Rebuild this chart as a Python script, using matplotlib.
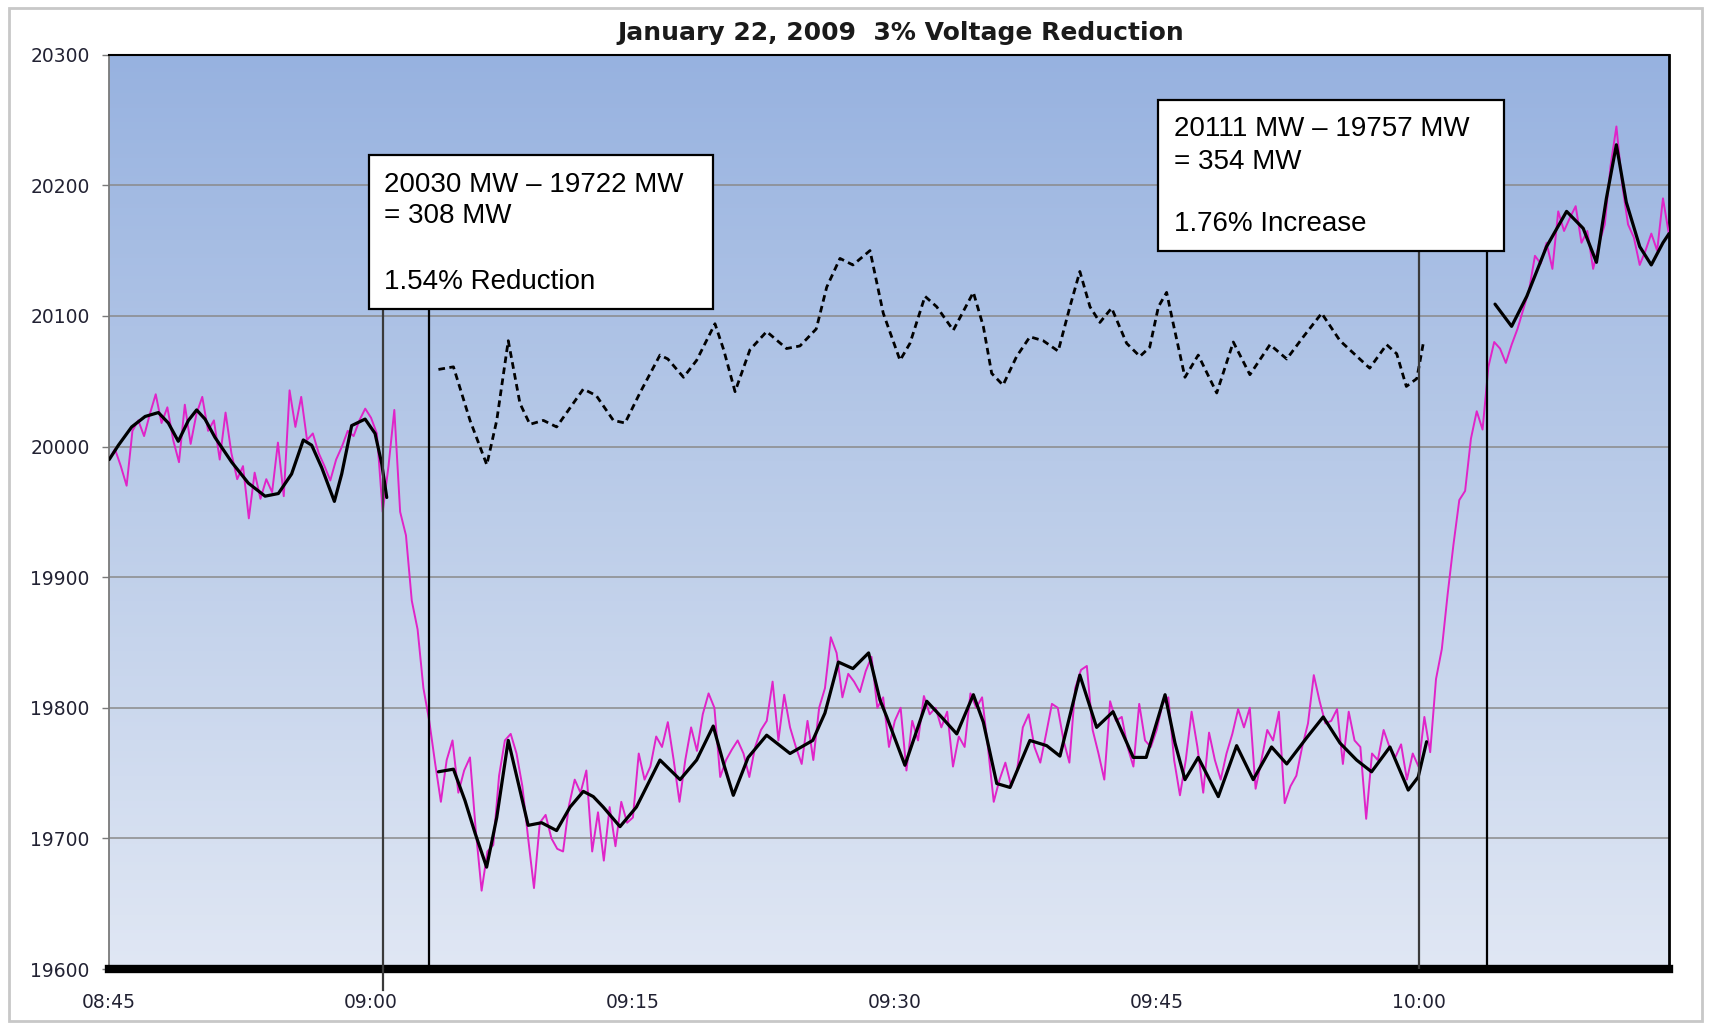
import numpy as np
import matplotlib
matplotlib.use('Agg')
import matplotlib.pyplot as plt
from matplotlib.patches import Rectangle
from matplotlib.colors import LinearSegmentedColormap

# System load (MW), one reading every 20 s starting 08:45
load_step_min = 1 / 3
load_mw = [
    19990, 19998, 19985, 19970, 20012, 20020, 20008, 20025, 20040, 20018, 20030, 20005, 19988, 20032, 20002,
    20025, 20038, 20012, 20020, 19990, 20026, 19995, 19975, 19985, 19945, 19980, 19960, 19975, 19965, 20003,
    19962, 20043, 20015, 20038, 20005, 20010, 19995, 19985, 19974, 19990, 20000, 20012, 20008, 20020, 20029,
    20022, 20010, 19950, 19985, 20028, 19950, 19932, 19882, 19860, 19815, 19790, 19758, 19728, 19760, 19775,
    19735, 19752, 19762, 19706, 19660, 19690, 19695, 19748, 19775, 19780, 19765, 19740, 19700, 19662, 19712,
    19718, 19700, 19692, 19690, 19725, 19745, 19735, 19752, 19690, 19720, 19683, 19724, 19694, 19728, 19712,
    19716, 19765, 19745, 19755, 19778, 19770, 19789, 19760, 19728, 19760, 19785, 19767, 19795, 19811, 19800,
    19747, 19760, 19768, 19775, 19765, 19747, 19770, 19783, 19790, 19820, 19775, 19810, 19785, 19770, 19757,
    19790, 19760, 19800, 19815, 19854, 19842, 19808, 19826, 19820, 19812, 19828, 19839, 19800, 19808, 19770,
    19790, 19800, 19752, 19790, 19775, 19809, 19795, 19800, 19785, 19797, 19755, 19778, 19770, 19811, 19800,
    19808, 19770, 19728, 19745, 19758, 19740, 19752, 19785, 19795, 19770, 19758, 19780, 19803, 19800, 19775,
    19758, 19815, 19829, 19832, 19783, 19765, 19745, 19805, 19790, 19793, 19770, 19755, 19803, 19775, 19770,
    19783, 19803, 19808, 19760, 19733, 19760, 19797, 19770, 19735, 19781, 19760, 19745, 19765, 19780, 19799,
    19785, 19800, 19738, 19760, 19783, 19775, 19797, 19727, 19740, 19748, 19770, 19788, 19825, 19805, 19788,
    19790, 19799, 19757, 19797, 19775, 19770, 19715, 19765, 19760, 19783, 19770, 19762, 19772, 19745, 19765,
    19755, 19793, 19766, 19822, 19845, 19887, 19925, 19959, 19966, 20006, 20027, 20013, 20061, 20080, 20075,
    20064, 20078, 20090, 20105, 20120, 20146, 20140, 20156, 20136, 20180, 20165, 20175, 20184, 20156, 20165,
    20136, 20155, 20170, 20215, 20245, 20200, 20170, 20160, 20139, 20150, 20163, 20150, 20190, 20163,
]
load_t = np.arange(len(load_mw)) * load_step_min

# Smoothed load, minutes after 08:45
smooth1_t = [0, 0.53, 1.29, 2.06, 2.82, 3.39, 3.96, 4.54, 5.01, 5.49, 6.06, 7.02, 7.97, 8.93,
             9.69, 10.45, 11.12, 11.6, 12.17, 12.9, 13.32, 13.89, 14.66, 15.23, 15.61, 15.9]
smooth1_mw = [19990, 20001, 20015, 20023, 20026, 20018, 20004, 20020, 20028, 20021, 20007, 19988, 19972, 19962,
              19964, 19979, 20005, 20001, 19984, 19958, 19979, 20016, 20021, 20010, 19987, 19961]

smooth2_t = [18.86, 19.72, 20.38, 20.96, 21.62, 22.2, 22.86, 23.44, 24.0, 24.77, 25.63, 26.4, 27.16, 27.73,
             28.3, 29.26, 30.2, 31.55, 32.7, 33.65, 34.6, 35.2, 35.75, 36.6, 37.66, 39.0, 40.3, 41.0,
             41.77, 42.6, 43.5, 44.15, 44.54, 45.58, 46.83, 47.6, 48.55, 49.5, 50.07, 50.84, 51.6, 52.74,
             53.7, 54.46, 55.6, 56.56, 57.5, 58.66, 59.4, 60.48, 61.05, 61.62, 62.38, 63.53, 64.58, 65.53,
             66.58, 67.45, 68.59, 69.54, 70.5, 71.45, 72.31, 73.36, 74.41, 74.98, 75.46]
smooth2_mw = [19751, 19753, 19729, 19704, 19678, 19716, 19775, 19742, 19710, 19712, 19706, 19724, 19736, 19732,
              19724, 19709, 19724, 19760, 19745, 19760, 19786, 19757, 19733, 19762, 19779, 19765, 19775, 19796,
              19835, 19830, 19842, 19806, 19793, 19756, 19805, 19794, 19780, 19810, 19789, 19742, 19739, 19775,
              19771, 19763, 19825, 19785, 19797, 19762, 19762, 19810, 19773, 19745, 19762, 19732, 19771, 19745,
              19770, 19757, 19777, 19793, 19773, 19760, 19751, 19770, 19737, 19747, 19774]

smooth3_t = [79.38, 80.33, 81.2, 82.33, 83.48, 84.43, 85.19, 85.76, 86.33, 86.9, 87.67, 88.33, 89.0, 89.35]
smooth3_mw = [20109, 20092, 20115, 20153, 20180, 20167, 20141, 20190, 20231, 20187, 20153, 20139, 20156, 20163]

# Smoothed load with the reduction added back (dashed)
est_t = [18.86, 19.72, 20.67, 21.63, 22.2, 22.86, 23.53, 24.1, 24.87, 25.63, 27.16, 27.9, 28.88, 29.55,
         30.4, 31.55, 32.0, 32.9, 33.65, 34.7, 35.2, 35.85, 36.7, 37.66, 38.8, 39.57, 40.5, 41.1, 41.86,
         42.6, 43.58, 44.34, 45.3, 45.87, 46.73, 47.4, 48.35, 49.5, 50.07, 50.55, 51.2, 51.98, 52.74,
         53.5, 54.36, 55.03, 55.6, 56.18, 56.75, 57.42, 58.28, 59.04, 59.6, 60.1, 60.57, 60.95, 61.62,
         62.38, 63.44, 64.39, 65.34, 66.49, 67.45, 68.4, 69.45, 70.5, 72.2, 73.17, 73.75, 74.3, 74.9, 75.27]
est_mw = [20059, 20061, 20020, 19986, 20020, 20081, 20033, 20017, 20020, 20015, 20044, 20039, 20020, 20018,
          20041, 20070, 20067, 20053, 20066, 20094, 20074, 20042, 20074, 20088, 20075, 20077, 20090, 20122, 20144,
          20139, 20150, 20102, 20066, 20079, 20115, 20107, 20089, 20118, 20092, 20056, 20047, 20069, 20084,
          20081, 20073, 20107, 20134, 20107, 20095, 20106, 20079, 20069, 20076, 20107, 20118, 20094, 20053,
          20070, 20041, 20080, 20055, 20078, 20067, 20084, 20102, 20081, 20060, 20078, 20071, 20046, 20052, 20079]

# Event markers (minutes after 08:45) and the top of each marker line
marker_t = [15.71, 18.34, 75.0, 78.9]
marker_top = [20105, 20105, 20150, 20150]
marker_color = ['#3a3a3a', 'black', '#3a3a3a', 'black']

tick_t = [0, 15, 30, 45, 60, 75]
tick_labels = ['08:45', '09:00', '09:15', '09:30', '09:45', '10:00']
y_ticks = [19600, 19700, 19800, 19900, 20000, 20100, 20200, 20300]

box1_lines = ['20030 MW \u2013 19722 MW', '= 308 MW', '1.54% Reduction']
box2_lines = ['20111 MW \u2013 19757 MW', '= 354 MW', '1.76% Increase']

fig = plt.figure(figsize=(17.11, 10.25), dpi=100)
ax = fig.add_axes([0.0638, 0.0546, 0.9117, 0.8921])
x_max = 89.35
ax.set_xlim(0, x_max)
ax.set_ylim(19600, 20300)

# blue gradient background
cmap = LinearSegmentedColormap.from_list('bg', ['#e0e7f4', '#bccde9', '#97b2e0'])
grad = np.linspace(0, 1, 256).reshape(-1, 1)
ax.imshow(grad, extent=[0, x_max, 19600, 20300], origin='lower', aspect='auto',
          cmap=cmap, zorder=0)

ax.set_yticks(y_ticks)
ax.grid(axis='y', color='#8a8a8a', linewidth=1.1, zorder=1)
ax.set_xticks(tick_t)
ax.set_xticklabels(tick_labels)

ax.plot(load_t, load_mw, color='#e024c8', linewidth=1.4, zorder=3)
for t, mw in [(smooth1_t, smooth1_mw), (smooth2_t, smooth2_mw), (smooth3_t, smooth3_mw)]:
    ax.plot(t, mw, color='black', linewidth=2.3, zorder=4,
            solid_capstyle='round', solid_joinstyle='round')
ax.plot(est_t, est_mw, color='black', linewidth=2.0, linestyle=(0, (2.4, 1.6)), zorder=4)

for t, top, c in zip(marker_t, marker_top, marker_color):
    ax.plot([t, t], [19600, top], color=c, linewidth=1.6, zorder=5)
# the first marker runs a little below the axis
ax.plot([marker_t[0], marker_t[0]], [19584, 19600], color=marker_color[0],
        linewidth=1.6, clip_on=False, zorder=5)

# annotation boxes
ax.add_patch(Rectangle((14.89, 20105), 19.67, 118, facecolor='white',
                       edgecolor='black', linewidth=1.6, zorder=6))
for line, y in zip(box1_lines, [20200, 20176.5, 20126]):
    ax.text(15.74, y, line, fontsize=20, family='Liberation Sans', va='center', zorder=7)
ax.add_patch(Rectangle((60.06, 20149.6), 19.81, 115.4, facecolor='white',
                       edgecolor='black', linewidth=1.6, zorder=6))
for line, y in zip(box2_lines, [20243, 20218, 20170]):
    ax.text(61.0, y, line, fontsize=20, family='Liberation Sans', va='center', zorder=7)

ax.spines['bottom'].set_linewidth(6)
ax.spines['bottom'].set_color('black')
ax.spines['left'].set_color('#7a7a7a')
ax.spines['left'].set_linewidth(1.3)
ax.spines['top'].set_linewidth(1.5)
ax.spines['right'].set_linewidth(2)
ax.tick_params(axis='y', length=5, width=1, color='#7a7a7a', pad=9, labelsize=13.5, labelcolor='#222233')
ax.tick_params(axis='x', length=0, pad=17, labelsize=13.5, labelcolor='#222233')

fig.text(0.5266, 0.968, 'January 22, 2009  3% Voltage Reduction', ha='center', va='center',
         fontsize=18, fontweight='bold', color='#1a1a1a')

# light frame round the whole chart
fig.add_artist(Rectangle((0.005, 0.004), 0.99, 0.988, transform=fig.transFigure, fill=False,
                         edgecolor='#c8c8c8', linewidth=2))

fig.savefig('out.png', dpi=100)
